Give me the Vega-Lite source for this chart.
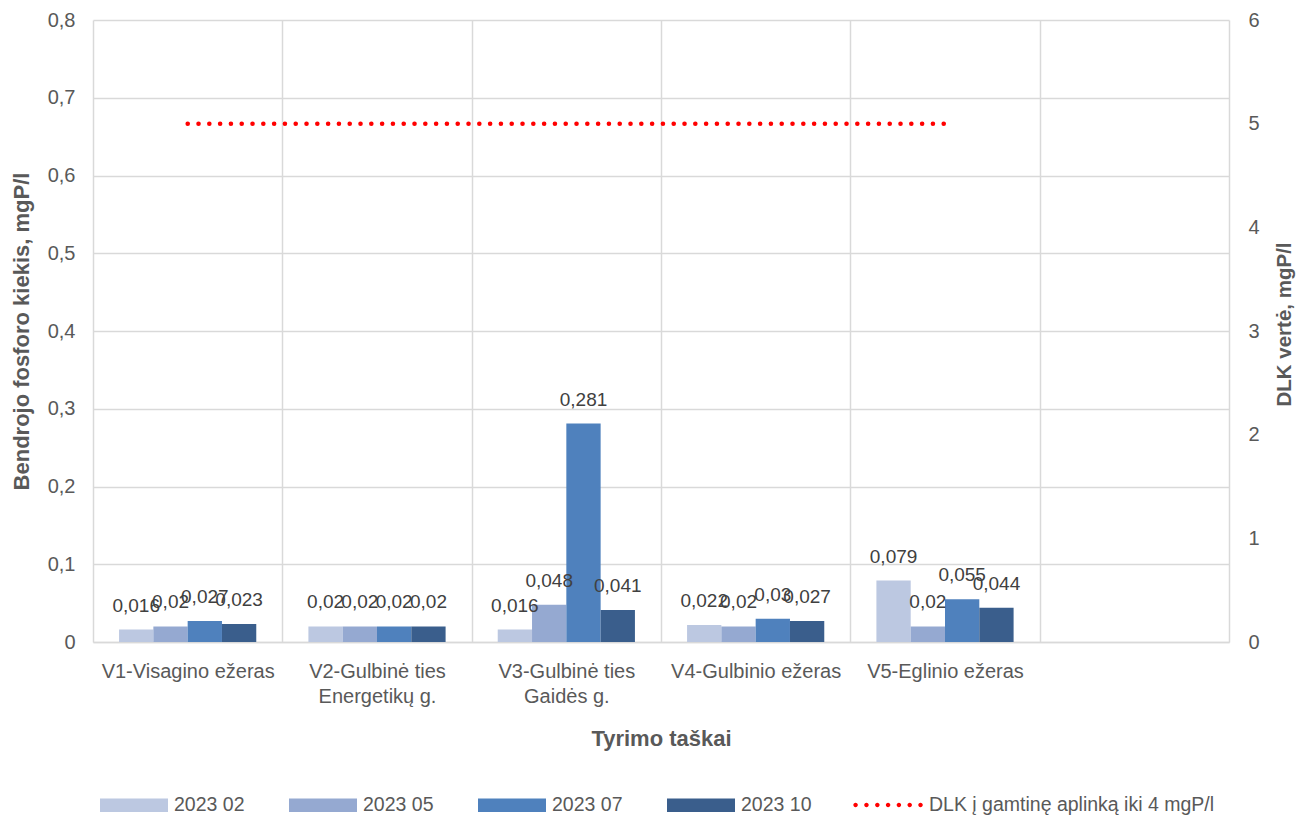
{
  "$schema": "https://vega.github.io/schema/vega-lite/v6.json",
  "width": 1136,
  "height": 622,
  "autosize": "none",
  "padding": {"left": 93, "top": 20, "right": 80, "bottom": 176},
  "background": "white",
  "config": {
    "locale": {"number": {"decimal": ",", "thousands": " ", "grouping": [3], "currency": ["", " €"]}},
    "view": {"stroke": null},
    "font": "Liberation Sans",
    "axis": {"labelColor": "#595959", "titleColor": "#595959", "labelFont": "Liberation Sans", "titleFont": "Liberation Sans"}
  },
  "datasets": {
    "bars": [
      {"site": "V1-Visagino ežeras", "series": "2023 02", "value": 0.016},
      {"site": "V1-Visagino ežeras", "series": "2023 05", "value": 0.02},
      {"site": "V1-Visagino ežeras", "series": "2023 07", "value": 0.027},
      {"site": "V1-Visagino ežeras", "series": "2023 10", "value": 0.023},
      {"site": "V2-Gulbinė ties Energetikų g.", "series": "2023 02", "value": 0.02},
      {"site": "V2-Gulbinė ties Energetikų g.", "series": "2023 05", "value": 0.02},
      {"site": "V2-Gulbinė ties Energetikų g.", "series": "2023 07", "value": 0.02},
      {"site": "V2-Gulbinė ties Energetikų g.", "series": "2023 10", "value": 0.02},
      {"site": "V3-Gulbinė ties Gaidės g.", "series": "2023 02", "value": 0.016},
      {"site": "V3-Gulbinė ties Gaidės g.", "series": "2023 05", "value": 0.048},
      {"site": "V3-Gulbinė ties Gaidės g.", "series": "2023 07", "value": 0.281},
      {"site": "V3-Gulbinė ties Gaidės g.", "series": "2023 10", "value": 0.041},
      {"site": "V4-Gulbinio ežeras", "series": "2023 02", "value": 0.022},
      {"site": "V4-Gulbinio ežeras", "series": "2023 05", "value": 0.02},
      {"site": "V4-Gulbinio ežeras", "series": "2023 07", "value": 0.03},
      {"site": "V4-Gulbinio ežeras", "series": "2023 10", "value": 0.027},
      {"site": "V5-Eglinio ežeras", "series": "2023 02", "value": 0.079},
      {"site": "V5-Eglinio ežeras", "series": "2023 05", "value": 0.02},
      {"site": "V5-Eglinio ežeras", "series": "2023 07", "value": 0.055},
      {"site": "V5-Eglinio ežeras", "series": "2023 10", "value": 0.044}
    ],
    "dlk": [
      {"site": "V1-Visagino ežeras", "dlk": 5},
      {"site": "V2-Gulbinė ties Energetikų g.", "dlk": 5},
      {"site": "V3-Gulbinė ties Gaidės g.", "dlk": 5},
      {"site": "V4-Gulbinio ežeras", "dlk": 5},
      {"site": "V5-Eglinio ežeras", "dlk": 5}
    ]
  },
  "layer": [
    {
      "data": {"name": "bars"},
      "encoding": {
        "x": {
          "field": "site",
          "type": "nominal",
          "sort": null,
          "scale": {
            "domain": ["V1-Visagino ežeras", "V2-Gulbinė ties Energetikų g.", "V3-Gulbinė ties Gaidės g.", "V4-Gulbinio ežeras", "V5-Eglinio ežeras", " "],
            "paddingInner": 0,
            "paddingOuter": 0
          },
          "axis": {
            "title": "Tyrimo taškai",
            "tickBand": "extent",
            "grid": true,
            "gridColor": "#d9d9d9",
            "gridWidth": 1.5,
            "ticks": false,
            "domainColor": "#d9d9d9",
            "domainWidth": 1.5,
            "labelAngle": 0,
            "labelFontSize": 20,
            "labelPadding": 19,
            "labelLineHeight": 25,
            "labelLimit": 400,
            "labelBaseline": "top",
            "labelExpr": "datum.value == 'V2-Gulbinė ties Energetikų g.' ? ['V2-Gulbinė ties', 'Energetikų g.'] : datum.value == 'V3-Gulbinė ties Gaidės g.' ? ['V3-Gulbinė ties', 'Gaidės g.'] : datum.label",
            "titleFontSize": 22,
            "titleFontWeight": "bold",
            "titlePadding": 22
          }
        },
        "xOffset": {
          "field": "series",
          "type": "nominal",
          "scale": {"paddingOuter": 0.76, "paddingInner": 0}
        },
        "y": {
          "field": "value",
          "type": "quantitative",
          "scale": {"domain": [0, 0.8], "nice": false},
          "axis": {
            "title": "Bendrojo fosforo kiekis, mgP/l",
            "values": [0, 0.1, 0.2, 0.3, 0.4, 0.5, 0.6, 0.7, 0.8],
            "format": "~g",
            "grid": true,
            "gridColor": "#d9d9d9",
            "gridWidth": 1.5,
            "domain": false,
            "ticks": false,
            "labelFontSize": 20,
            "labelPadding": 18,
            "titleFontSize": 22,
            "titleFontWeight": "bold",
            "titlePadding": 14
          }
        }
      },
      "layer": [
        {
          "mark": {"type": "bar"},
          "encoding": {
            "color": {
              "field": "series",
              "type": "nominal",
              "scale": {"domain": ["2023 02", "2023 05", "2023 07", "2023 10"], "range": ["#BCC8E1", "#95A9D1", "#4F81BD", "#3A5E8C"]},
              "legend": {
                "orient": "none",
                "legendX": 7,
                "legendY": 751,
                "direction": "horizontal",
                "title": null,
                "symbolType": "M-1,-0.2H1V0.2H-1Z",
                "symbolSize": 4624,
                "symbolStrokeWidth": 0,
                "symbolOpacity": 1,
                "labelFont": "Liberation Sans",
                "labelFontSize": 19.5,
                "labelColor": "#595959",
                "labelOffset": 6,
                "columnPadding": 44
              }
            }
          }
        },
        {
          "mark": {"type": "text", "baseline": "alphabetic", "dy": -18, "font": "Liberation Sans", "fontSize": 19, "color": "#404040"},
          "encoding": {
            "text": {"field": "value", "type": "quantitative", "format": "~g"}
          }
        }
      ]
    },
    {
      "data": {"name": "dlk"},
      "mark": {"type": "line", "strokeWidth": 4.5, "strokeDash": [0.1, 10.7], "strokeCap": "round"},
      "encoding": {
        "x": {"field": "site", "type": "nominal", "sort": null},
        "y": {
          "field": "dlk",
          "type": "quantitative",
          "scale": {"domain": [0, 6], "nice": false},
          "axis": {
            "orient": "right",
            "title": "DLK vertė, mgP/l",
            "values": [0, 1, 2, 3, 4, 5, 6],
            "grid": false,
            "domain": false,
            "ticks": false,
            "labelFontSize": 20,
            "labelPadding": 19,
            "titleFontSize": 20.5,
            "titleFontWeight": "bold",
            "titleAngle": -90,
            "titlePadding": 35,
            "titleY": 304
          }
        },
        "stroke": {
          "datum": "DLK į gamtinę aplinką iki 4 mgP/l",
          "type": "nominal",
          "scale": {"range": ["#ff0000"]},
          "legend": {
            "orient": "none",
            "legendX": 760,
            "legendY": 751,
            "title": null,
            "symbolType": "M-0.99,0a0.066,0.066 0 1,0 0.132,0a0.066,0.066 0 1,0 -0.132,0M-0.67,0a0.066,0.066 0 1,0 0.132,0a0.066,0.066 0 1,0 -0.132,0M-0.35,0a0.066,0.066 0 1,0 0.132,0a0.066,0.066 0 1,0 -0.132,0M-0.034,0a0.066,0.066 0 1,0 0.132,0a0.066,0.066 0 1,0 -0.132,0M0.284,0a0.066,0.066 0 1,0 0.132,0a0.066,0.066 0 1,0 -0.132,0M0.602,0a0.066,0.066 0 1,0 0.132,0a0.066,0.066 0 1,0 -0.132,0M0.92,0a0.066,0.066 0 1,0 0.132,0a0.066,0.066 0 1,0 -0.132,0",
            "symbolSize": 4624,
            "symbolFillColor": "#ff0000",
            "symbolStrokeWidth": 0,
            "symbolOpacity": 1,
            "labelFont": "Liberation Sans",
            "labelFontSize": 19.5,
            "labelColor": "#595959",
            "labelOffset": 8,
            "labelLimit": 400
          }
        }
      }
    }
  ],
  "resolve": {"scale": {"y": "independent"}}
}
